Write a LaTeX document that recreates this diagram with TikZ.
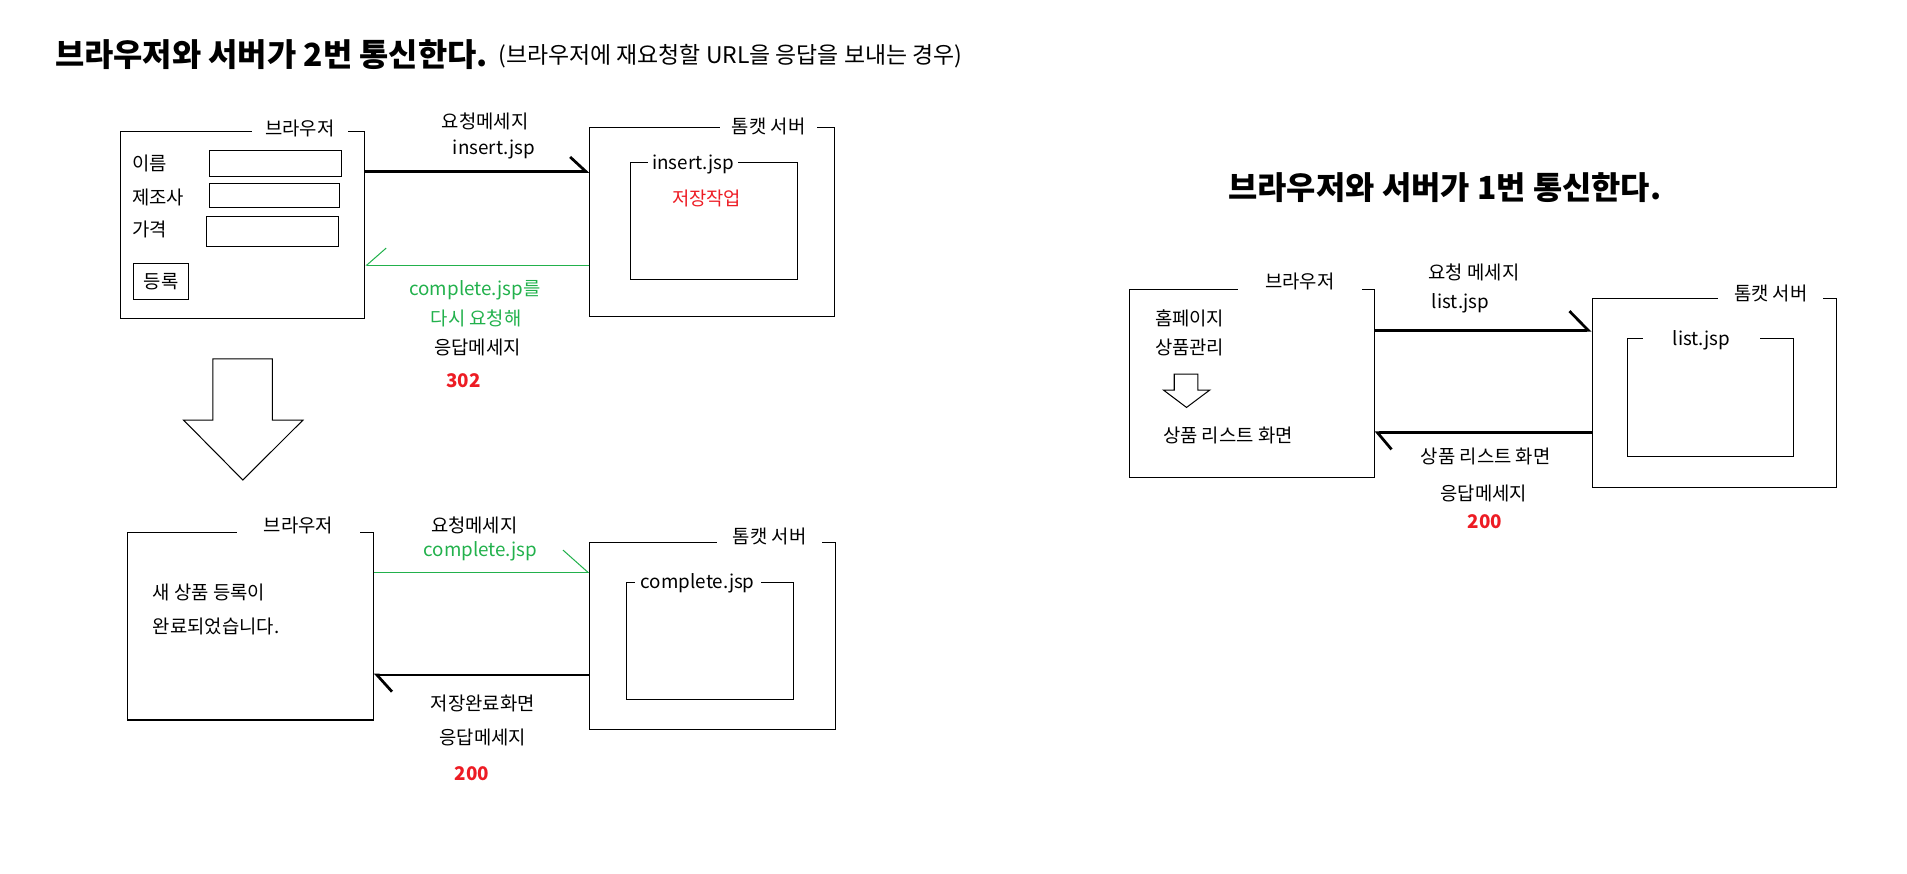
\documentclass[tikz,border=0pt]{standalone}
\usepackage{fontspec}
\setmainfont{Noto Sans CJK KR}
\usetikzlibrary{arrows.meta,fit}

\definecolor{paintgreen}{RGB}{34,177,76}
\definecolor{paintred}{RGB}{237,28,36}

\tikzset{
  frame/.style={draw, line width=0.6pt, inner sep=0pt},
  lbl/.style={inner sep=1pt, font=\fontsize{11}{13}\selectfont},
  boxlabel/.style={lbl, fill=white, inner ysep=2pt},
  status/.style={lbl, text=paintred, font=\fontsize{11}{13}\selectfont\bfseries},
  headline/.style={inner sep=0pt, font=\fontsize{18.6}{22}\selectfont\bfseries},
  msgline/.style={line width=1.6pt},
  redirline/.style={line width=0.6pt, draw=paintgreen},
  hollow/.style={draw, line width=0.6pt, fill=white}
}

\begin{document}
\begin{tikzpicture}[x=0.025cm, y=-0.025cm]
\useasboundingbox (0,0) rectangle (1568,718);

% titles
\node[headline, anchor=west] (head2) at (45,45) {브라우저와 서버가 2번 통신한다.};
\node[lbl, anchor=west, font=\fontsize{13.4}{16}\selectfont] (head2note) at (408,46) {(브라우저에 재요청할 URL을 응답을 보내는 경우)};
\node[headline] (head1) at (1188,154) {브라우저와 서버가 1번 통신한다.};

% first request: form in the browser
\node[frame, fit={(99,108.5) (300,262)}] (brw1) {};
\node[boxlabel, minimum width=1.975cm] (brw1l) at (246.5,106) {브라우저};
\node[lbl, anchor=west] (name) at (107,134) {이름};
\node[lbl, anchor=west] (maker) at (107,162) {제조사};
\node[lbl, anchor=west] (price) at (107,189) {가격};
\node[frame, fit={(172,124) (281,145)}] (namef) {};
\node[frame, fit={(172,151) (279,171)}] (makerf) {};
\node[frame, fit={(169.5,178) (278,203)}] (pricef) {};
\node[frame, fit={(110,217) (155,246)}] (regbtn) {};
\node[lbl] at (regbtn.center) {등록};

\node[frame, fit={(485,105) (686,260)}] (srv1) {};
\node[boxlabel, minimum width=2.0cm] (srv1l) at (632,104) {톰캣 서버};
\node[frame, fit={(518.5,134) (655.6,230)}] (insert) {};
\node[boxlabel, minimum width=1.86cm] (insertl) at (570,135.5) {insert.jsp};
\node[lbl, text=paintred] (save) at (581,163.5) {저장작업};

\coordinate (y1) at (0,141);
\coordinate (y2) at (0,218);
\draw[msgline, -{Straight Barb[harpoon, length=9.2pt, width=17pt]}] (brw1.east |- y1) -- (srv1.west |- y1);
\draw[redirline, -{Straight Barb[harpoon, swap, length=11.4pt, width=20pt]}] (srv1.west |- y2) -- (brw1.east |- y2);

\node[lbl] (req1) at (399,100) {요청메세지};
\node[lbl] (req1f) at (406,123) {insert.jsp};
\node[lbl, text=paintgreen] (redir1) at (390.5,239) {complete.jsp를};
\node[lbl, text=paintgreen] (redir2) at (391.5,262) {다시 요청해};
\node[lbl] (resp1) at (392.5,286) {응답메세지};
\node[status] (code302) at (381,313) {302};

% big down arrow
\draw[hollow] (175,295) -- (224,295) -- (224,345.5) -- (249,345.5) -- (199.7,394.7)
  -- (151,345.5) -- (175,345.5) -- cycle;

% second request: result page
\node[frame, fit={(105,437.6) (307,592)}] (brw2) {};
\node[boxlabel, minimum width=2.535cm] (brw2l) at (245.3,431.7) {브라우저};
\node[lbl, anchor=west] (done1) at (124,487) {새 상품 등록이};
\node[lbl, anchor=west] (done2) at (124,515) {완료되었습니다.};

\node[frame, fit={(485,445.7) (686.6,600)}] (srv2) {};
\node[boxlabel, minimum width=2.16cm] (srv2l) at (632.8,441) {톰캣 서버};
\node[frame, fit={(515,479) (652.4,575)}] (complete) {};
\node[boxlabel, minimum width=2.59cm] (completel) at (573.7,479.5) {complete.jsp};

\coordinate (y3) at (0,470.6);
\coordinate (y4) at (0,555);
\draw[redirline, -{Straight Barb[harpoon, length=14.6pt, width=26pt]}] (brw2.east |- y3) -- (srv2.west |- y3);
\draw[msgline, -{Straight Barb[harpoon, length=8.8pt, width=19.5pt]}] (srv2.west |- y4) -- (brw2.east |- y4);

\node[lbl] (req2) at (390,432) {요청메세지};
\node[lbl, text=paintgreen] (req2f) at (395,453) {complete.jsp};
\node[lbl] (resp2a) at (397,578) {저장완료화면};
\node[lbl] (resp2b) at (397,606) {응답메세지};
\node[status] (code200a) at (388,636) {200};

% one round trip
\node[frame, fit={(928.7,237.8) (1129.8,392.4)}] (brw3) {};
\node[boxlabel, minimum width=2.54cm] (brw3l) at (1068.8,231.6) {브라우저};
\node[lbl, anchor=west] (home) at (948,261.6) {홈페이지};
\node[lbl, anchor=west] (manage) at (948,286) {상품관리};
\draw[hollow] (965.5,307.7) -- (985,307.7) -- (985,320.7) -- (994.7,320.7) -- (975.6,335)
  -- (956.6,320.7) -- (965.5,320.7) -- cycle;
\node[lbl, anchor=west] (listpage) at (954.6,357.7) {상품 리스트 화면};

\node[frame, fit={(1309,245.8) (1509.8,400.5)}] (srv3) {};
\node[boxlabel, minimum width=2.15cm] (srv3l) at (1456,241) {톰캣 서버};
\node[frame, fit={(1338,278.7) (1475,375)}] (list) {};
\node[boxlabel, minimum width=2.4cm] (listl) at (1399,280) {list.jsp};

\coordinate (y5) at (0,271.6);
\coordinate (y6) at (0,355.8);
\draw[msgline, -{Straight Barb[harpoon, length=11pt, width=22.5pt]}] (brw3.east |- y5) -- (srv3.west |- y5);
\draw[msgline, -{Straight Barb[harpoon, length=8.2pt, width=19.5pt]}] (srv3.west |- y6) -- (brw3.east |- y6);

\node[lbl] (req3) at (1212,224) {요청 메세지};
\node[lbl] (req3f) at (1201,249) {list.jsp};
\node[lbl] (resp3a) at (1221.6,375) {상품 리스트 화면};
\node[lbl] (resp3b) at (1220,406) {응답메세지};
\node[status] (code200b) at (1221,429) {200};

\end{tikzpicture}
\end{document}
